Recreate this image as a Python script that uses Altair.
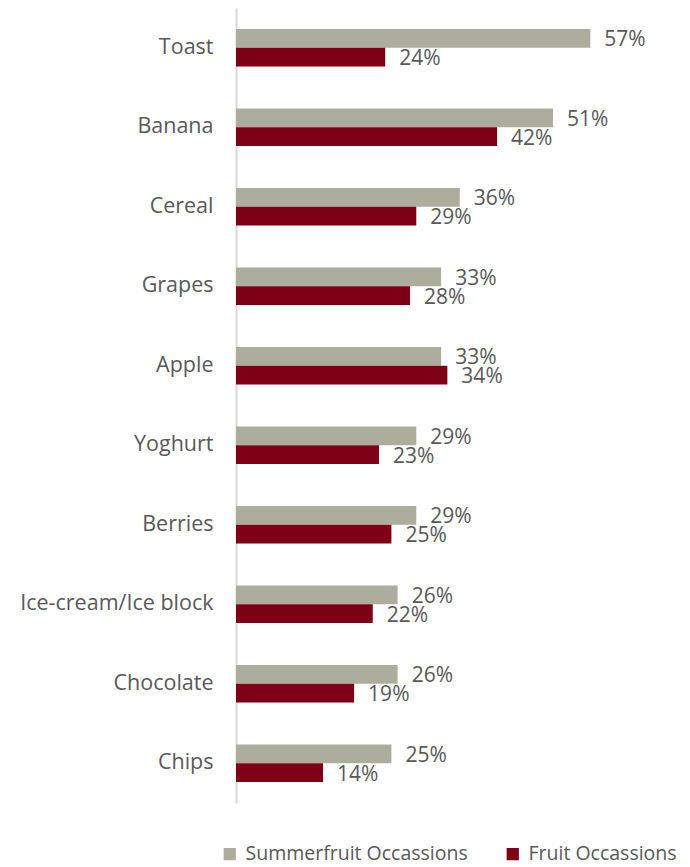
import altair as alt
import pandas as pd

categories = ["Toast", "Banana", "Cereal", "Grapes", "Apple", "Yoghurt",
              "Berries", "Ice-cream/Ice block", "Chocolate", "Chips"]
summerfruit = [57, 51, 36, 33, 33, 29, 29, 26, 26, 25]
fruit = [24, 42, 29, 28, 34, 23, 25, 22, 19, 14]
series = ["Summerfruit Occassions", "Fruit Occassions"]
colors = ["#ADAD9E", "#7D0016"]

rows = []
for c, s, f in zip(categories, summerfruit, fruit):
    rows.append({"cat": c, "series": series[0], "value": s, "label": f"{s}%"})
    rows.append({"cat": c, "series": series[1], "value": f, "label": f"{f}%"})
df = pd.DataFrame(rows)

FONT = "Open Sans"
TEXT = "#595959"

y_enc = alt.Y("cat:N", sort=categories, title=None,
              scale=alt.Scale(paddingInner=0.53, paddingOuter=0.265),
              axis=alt.Axis(ticks=False, labelPadding=23, labelFontSize=21.5,
                            labelColor=TEXT, labelFont=FONT, labelLimit=0,
                            domainColor="#D9D9D9", domainWidth=2))
x_enc = alt.X("value:Q", scale=alt.Scale(domain=[0, 60]), axis=None)
yoff = alt.YOffset("series:N", sort=series, scale=alt.Scale(paddingInner=0, paddingOuter=0))

bars = alt.Chart(df).mark_bar(size=18.7).encode(
    y=y_enc, x=x_enc, yOffset=yoff,
    color=alt.Color("series:N", sort=series,
                    scale=alt.Scale(domain=series, range=colors),
                    legend=alt.Legend(title=None, orient="none", direction="horizontal",
                                      legendX=-16, legendY=836, symbolType="square",
                                      symbolSize=150, symbolStrokeWidth=0,
                                      labelFontSize=19.5, labelFont=FONT, labelLimit=0,
                                      labelColor=TEXT, columnPadding=35,
                                      labelOffset=6))
)

labels = alt.Chart(df).mark_text(align="left", baseline="middle", dx=14, dy=2,
                                 fontSize=21, font=FONT, color=TEXT).encode(
    y=alt.Y("cat:N", sort=categories), x="value:Q", yOffset=yoff, text="label:N"
)

chart = (bars + labels).properties(
    width=373, height=795, background="white",
    autosize=alt.AutoSizeParams(type="none"),
    padding={"left": 228, "top": 0, "right": 73, "bottom": 64},
).configure_view(stroke=None)

chart.save("out.html", embed_options={"renderer": "svg", "actions": False})
